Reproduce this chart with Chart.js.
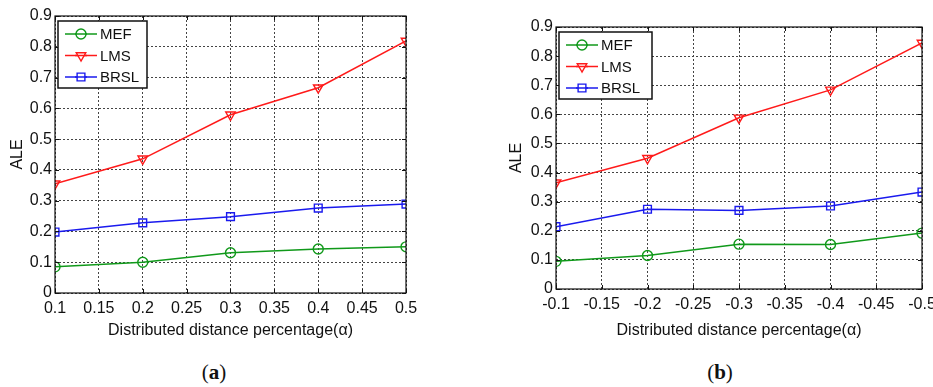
<!DOCTYPE html>
<html>
<head>
<meta charset="utf-8">
<script src="https://cdn.jsdelivr.net/npm/chart.js@4/dist/chart.umd.min.js"></script>
<style>
html,body{margin:0;padding:0;background:#fff;width:933px;height:387px;overflow:hidden;position:relative;}
.wrap{position:absolute;top:0;}
.cap{position:absolute;top:360px;font-family:"Liberation Serif","DejaVu Serif",serif;font-size:21px;color:#111;transform:translateX(-50%);white-space:nowrap;}
.cap b{font-weight:bold;}
</style>
</head>
<body>
<div class="wrap" style="left:0;width:470px;height:340px;"><canvas id="ca"></canvas></div>
<div class="wrap" style="left:470px;width:480px;height:340px;"><canvas id="cb"></canvas></div>
<div class="cap" style="left:214px;">(<b>a</b>)</div>
<div class="cap" style="left:720px;">(<b>b</b>)</div>
<script>
// ---- data ----
const alphaA = [0.1, 0.2, 0.3, 0.4, 0.5];
const mefA  = [0.085, 0.100, 0.131, 0.143, 0.150];
const lmsA  = [0.355, 0.436, 0.579, 0.667, 0.819];
const brslA = [0.198, 0.228, 0.248, 0.276, 0.289];

const alphaB = [-0.1, -0.2, -0.3, -0.4, -0.5];
const mefB  = [0.095, 0.115, 0.154, 0.153, 0.192];
const lmsB  = [0.365, 0.449, 0.588, 0.684, 0.845];
const brslB = [0.214, 0.274, 0.270, 0.285, 0.333];

const seriesNames = ['MEF', 'LMS', 'BRSL'];
const xTitle = 'Distributed distance percentage(\u03B1)';
const yTitle = 'ALE';

const COLORS = ['#10991a', '#ff1a1a', '#1a1aee'];
const STYLES = ['circle', 'triangle', 'rect'];
const ROT = [0, 180, 0];
const RAD = [5, 5.5, 5.5];
const FONT = "'Liberation Sans', Arial, sans-serif";

function pairs(xs, ys){ return xs.map((x,i)=>({x:x, y:ys[i]})); }

function makeDatasets(xs, groups){
  return groups.map((ys,i)=>({
    label: seriesNames[i],
    data: pairs(xs, ys),
    borderColor: COLORS[i],
    backgroundColor: 'rgba(0,0,0,0)',
    pointBackgroundColor: 'rgba(0,0,0,0)',
    pointBorderColor: COLORS[i],
    pointStyle: STYLES[i],
    rotation: ROT[i],
    pointRadius: RAD[i],
    pointBorderWidth: 1.4,
    borderWidth: 1.5,
    tension: 0
  }));
}

const boxPlugin = {
  id: 'boxAndLegend',
  afterDatasetsDraw(chart, args, opts){
    const ctx = chart.ctx, a = chart.chartArea;
    ctx.save();
    // inward tick marks (MATLAB style)
    ctx.strokeStyle = '#111';
    ctx.lineWidth = 1;
    ctx.setLineDash([]);
    const xs = chart.scales.x, ys = chart.scales.y;
    xs.ticks.forEach(t => {
      const px = Math.round(xs.getPixelForValue(t.value)) + 0.5;
      ctx.beginPath();
      ctx.moveTo(px, a.bottom); ctx.lineTo(px, a.bottom - 4);
      ctx.moveTo(px, a.top); ctx.lineTo(px, a.top + 4);
      ctx.stroke();
    });
    ys.ticks.forEach(t => {
      const py = Math.round(ys.getPixelForValue(t.value)) + 0.5;
      ctx.beginPath();
      ctx.moveTo(a.left, py); ctx.lineTo(a.left + 4, py);
      ctx.moveTo(a.right, py); ctx.lineTo(a.right - 4, py);
      ctx.stroke();
    });
    ctx.lineWidth = 1.2;
    ctx.strokeRect(a.left, a.top, a.right - a.left, a.bottom - a.top);
    // legend box
    const lx = a.left + 3, ly = a.top + 5, lw = opts.w, lh = 67;
    ctx.fillStyle = '#fff';
    ctx.fillRect(lx, ly, lw, lh);
    ctx.lineWidth = 1.5;
    ctx.strokeStyle = '#111';
    ctx.strokeRect(lx, ly, lw, lh);
    ctx.font = '15px ' + FONT;
    ctx.textBaseline = 'middle';
    chart.data.datasets.forEach((ds, i) => {
      const cy = ly + 13 + i * 21.5;
      ctx.strokeStyle = ds.borderColor;
      ctx.lineWidth = 1.5;
      ctx.beginPath();
      ctx.moveTo(lx + 7, cy);
      ctx.lineTo(lx + 39, cy);
      ctx.stroke();
      ctx.fillStyle = '#fff';
      ctx.strokeStyle = ds.borderColor;
      ctx.lineWidth = 1.4;
      Chart.helpers.drawPoint(ctx, {
        pointStyle: ds.pointStyle, rotation: ds.rotation,
        radius: ds.pointRadius, borderWidth: 1.4
      }, lx + 23, cy);
      // redraw the line through the open marker like MATLAB
      ctx.beginPath();
      ctx.moveTo(lx + 17, cy);
      ctx.lineTo(lx + 29, cy);
      ctx.lineWidth = 1.5;
      ctx.stroke();
      ctx.fillStyle = '#111';
      ctx.fillText(ds.label, lx + 42, cy + 1);
    });
    ctx.restore();
  }
};

function fmt(v){ return String(Number(v.toFixed(2))); }

function makeChart(id, xs, groups, cfg){
  return new Chart(document.getElementById(id), {
    type: 'line',
    data: { datasets: makeDatasets(xs, groups) },
    plugins: [boxPlugin],
    options: {
      responsive: true,
      maintainAspectRatio: false,
      animation: false,
      devicePixelRatio: 1,
      layout: { padding: cfg.padding },
      plugins: {
        legend: { display: false },
        tooltip: { enabled: false },
        boxAndLegend: { w: cfg.legendW }
      },
      scales: {
        x: {
          type: 'linear',
          min: cfg.xmin, max: cfg.xmax, reverse: cfg.reverse,
          afterFit: s => { s.height = cfg.xh; },
          grid: { color: '#444', lineWidth: 1, drawTicks: false },
          border: { display: false, dash: [2, 2] },
          ticks: { stepSize: 0.05, autoSkip: false, maxRotation: 0, padding: 6,
                   color: '#111', font: { family: FONT, size: 16 },
                   callback: v => fmt(v) },
          title: { display: true, text: xTitle, color: '#111',
                   font: { family: FONT, size: 16 }, padding: { top: cfg.xtp, bottom: 0 } }
        },
        y: {
          min: 0, max: 0.9,
          afterFit: s => { s.width = cfg.yw; },
          grid: { color: '#444', lineWidth: 1, drawTicks: false },
          border: { display: false, dash: [2, 2] },
          ticks: { stepSize: 0.1, padding: 3, color: '#111',
                   font: { family: FONT, size: 16 }, callback: v => fmt(v) },
          title: { display: true, text: yTitle, color: '#111',
                   font: { family: FONT, size: 16 }, padding: { top: cfg.ytp, bottom: 0 } }
        }
      }
    }
  });
}

makeChart('ca', alphaA, [mefA, lmsA, brslA], {
  padding: { left: 0, top: 16, right: 64, bottom: 0 },
  yw: 55, xh: 47, xtp: 7, ytp: 8,
  xmin: 0.1, xmax: 0.5, reverse: false, legendW: 89
});
makeChart('cb', alphaB, [mefB, lmsB, brslB], {
  padding: { left: 0, top: 27, right: 28, bottom: 0 },
  yw: 86, xh: 51, xtp: 9, ytp: 37,
  xmin: -0.5, xmax: -0.1, reverse: true, legendW: 93
});
</script>
</body>
</html>
